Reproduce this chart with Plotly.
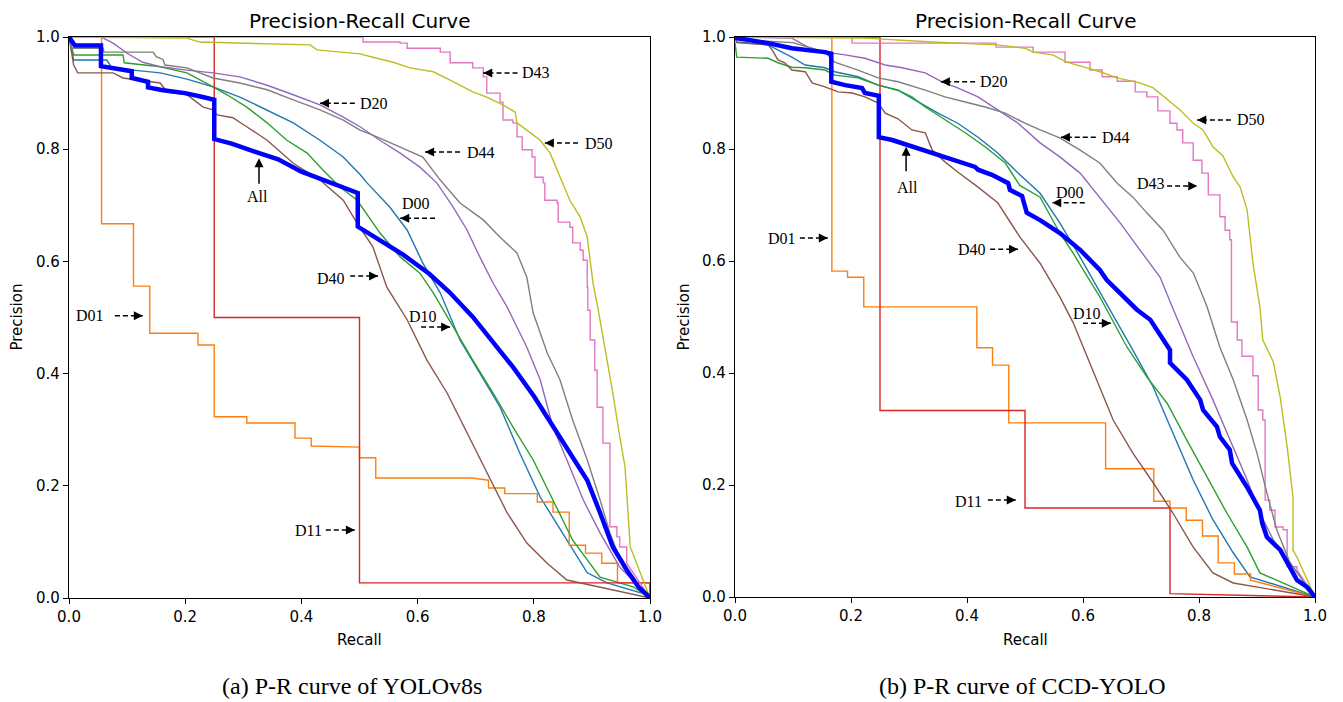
import plotly.graph_objects as go

# ---------------- data: panel (a) YOLOv8s ----------------
a_all_r = [0.0, 0.01, 0.055, 0.055, 0.108, 0.108, 0.136, 0.136, 0.162, 0.20, 0.23, 0.25, 0.25, 0.28, 0.33, 0.36, 0.40, 0.45, 0.497, 0.497, 0.535, 0.575, 0.62, 0.655, 0.695, 0.73, 0.764, 0.80, 0.833, 0.865, 0.892, 0.914, 0.936, 0.96, 0.98, 1.0]
a_all_p = [1.0, 0.985, 0.985, 0.948, 0.939, 0.927, 0.920, 0.910, 0.905, 0.900, 0.893, 0.888, 0.818, 0.810, 0.792, 0.782, 0.760, 0.740, 0.722, 0.662, 0.638, 0.612, 0.578, 0.545, 0.501, 0.456, 0.412, 0.36, 0.305, 0.255, 0.21, 0.152, 0.091, 0.05, 0.02, 0.0]

a_d00_r = [0.0, 0.008, 0.065, 0.074, 0.110, 0.157, 0.203, 0.248, 0.294, 0.341, 0.386, 0.432, 0.472, 0.501, 0.513, 0.552, 0.582, 0.609, 0.639, 0.673, 0.707, 0.742, 0.776, 0.811, 0.857, 0.892, 0.926, 0.997, 1.0]
a_d00_p = [1.0, 0.959, 0.959, 0.945, 0.941, 0.936, 0.925, 0.911, 0.893, 0.870, 0.847, 0.816, 0.786, 0.755, 0.740, 0.697, 0.656, 0.597, 0.544, 0.46, 0.401, 0.340, 0.258, 0.18, 0.103, 0.045, 0.027, 0.005, 0.0]

a_d01_r = [0.0, 0.056, 0.056, 0.111, 0.111, 0.139, 0.139, 0.222, 0.222, 0.25, 0.25, 0.306, 0.306, 0.389, 0.389, 0.417, 0.417, 0.5, 0.5, 0.528, 0.528, 0.694, 0.722, 0.722, 0.75, 0.75, 0.806, 0.806, 0.833, 0.833, 0.861, 0.861, 0.889, 0.889, 0.917, 0.917, 0.944, 0.944, 1.0, 1.0]
a_d01_p = [1.0, 1.0, 0.667, 0.667, 0.556, 0.556, 0.472, 0.472, 0.451, 0.451, 0.323, 0.323, 0.312, 0.312, 0.285, 0.285, 0.271, 0.269, 0.25, 0.25, 0.214, 0.214, 0.21, 0.196, 0.196, 0.186, 0.186, 0.171, 0.171, 0.153, 0.153, 0.094, 0.094, 0.08, 0.08, 0.062, 0.062, 0.027, 0.027, 0.0]

a_d10_r = [0.0, 0.008, 0.093, 0.095, 0.157, 0.203, 0.248, 0.272, 0.306, 0.341, 0.375, 0.410, 0.437, 0.466, 0.496, 0.535, 0.570, 0.604, 0.627, 0.661, 0.695, 0.730, 0.764, 0.799, 0.833, 0.867, 0.914, 0.971, 1.0]
a_d10_p = [1.0, 0.968, 0.968, 0.954, 0.947, 0.936, 0.911, 0.897, 0.875, 0.847, 0.816, 0.793, 0.763, 0.733, 0.709, 0.651, 0.608, 0.579, 0.544, 0.483, 0.424, 0.365, 0.305, 0.246, 0.175, 0.103, 0.037, 0.02, 0.0]

a_d11_r = [0.0, 0.25, 0.25, 0.5, 0.5, 1.0, 1.0]
a_d11_p = [1.0, 1.0, 0.5, 0.5, 0.027, 0.027, 0.0]

a_d20_r = [0.0, 0.055, 0.076, 0.10, 0.127, 0.157, 0.203, 0.248, 0.294, 0.341, 0.386, 0.432, 0.472, 0.501, 0.535, 0.570, 0.604, 0.633, 0.661, 0.685, 0.707, 0.730, 0.754, 0.788, 0.811, 0.833, 0.857, 0.885, 0.914, 0.948, 1.0]
a_d20_p = [1.0, 1.0, 0.989, 0.971, 0.955, 0.947, 0.941, 0.936, 0.929, 0.914, 0.897, 0.879, 0.857, 0.840, 0.816, 0.793, 0.768, 0.740, 0.697, 0.656, 0.608, 0.561, 0.519, 0.447, 0.389, 0.305, 0.246, 0.175, 0.116, 0.055, 0.0]

a_d40_r = [0.0, 0.008, 0.015, 0.076, 0.093, 0.157, 0.169, 0.203, 0.231, 0.248, 0.255, 0.282, 0.306, 0.341, 0.386, 0.432, 0.472, 0.496, 0.523, 0.547, 0.582, 0.616, 0.651, 0.685, 0.719, 0.754, 0.788, 0.823, 0.857, 1.0]
a_d40_p = [1.0, 0.95, 0.936, 0.936, 0.927, 0.918, 0.902, 0.897, 0.875, 0.870, 0.861, 0.856, 0.840, 0.816, 0.775, 0.745, 0.709, 0.668, 0.626, 0.554, 0.496, 0.424, 0.365, 0.294, 0.223, 0.152, 0.098, 0.062, 0.032, 0.0]

# D43 is a staircase: precision drops to p[i] at recall r[i]; the last point is joined by a straight line
a_d43_r = [0.0, 0.506, 0.570, 0.582, 0.639, 0.656, 0.695, 0.713, 0.719, 0.742, 0.747, 0.764, 0.771, 0.780, 0.797, 0.802, 0.816, 0.819, 0.840, 0.842, 0.862, 0.867, 0.880, 0.885, 0.892, 0.893, 0.897, 0.905, 0.909, 0.919, 0.931, 0.943, 0.948, 0.960, 1.0]
a_d43_p = [1.0, 0.991, 0.989, 0.980, 0.973, 0.954, 0.945, 0.929, 0.900, 0.884, 0.852, 0.847, 0.822, 0.799, 0.786, 0.750, 0.740, 0.709, 0.704, 0.670, 0.661, 0.633, 0.620, 0.602, 0.554, 0.513, 0.460, 0.406, 0.340, 0.276, 0.127, 0.109, 0.091, 0.062, 0.0]

a_d44_r = [0.0, 0.005, 0.059, 0.06, 0.145, 0.15, 0.162, 0.165, 0.203, 0.248, 0.294, 0.341, 0.386, 0.432, 0.472, 0.501, 0.523, 0.570, 0.609, 0.639, 0.673, 0.713, 0.742, 0.771, 0.788, 0.797, 0.799, 0.823, 0.845, 0.867, 0.892, 0.914, 0.931, 0.954, 1.0]
a_d44_p = [1.0, 0.98, 0.98, 0.973, 0.973, 0.965, 0.96, 0.95, 0.945, 0.927, 0.918, 0.906, 0.888, 0.870, 0.852, 0.834, 0.825, 0.804, 0.786, 0.745, 0.704, 0.674, 0.643, 0.615, 0.572, 0.519, 0.508, 0.437, 0.389, 0.317, 0.246, 0.175, 0.116, 0.055, 0.0]

a_d50_r = [0.0, 0.203, 0.225, 0.415, 0.427, 0.501, 0.523, 0.558, 0.587, 0.627, 0.656, 0.678, 0.695, 0.719, 0.747, 0.768, 0.771, 0.788, 0.811, 0.828, 0.845, 0.862, 0.880, 0.892, 0.897, 0.902, 0.910, 0.914, 0.926, 0.936, 0.948, 0.957, 0.966, 1.0]
a_d50_p = [1.0, 0.998, 0.991, 0.986, 0.977, 0.970, 0.964, 0.955, 0.945, 0.938, 0.923, 0.911, 0.902, 0.893, 0.879, 0.866, 0.847, 0.834, 0.816, 0.793, 0.750, 0.709, 0.679, 0.643, 0.602, 0.561, 0.519, 0.496, 0.424, 0.365, 0.287, 0.234, 0.091, 0.0]

# ---------------- data: panel (b) CCD-YOLO ----------------
b_all_r = [0.0, 0.003, 0.057, 0.098, 0.155, 0.166, 0.166, 0.19, 0.219, 0.224, 0.248, 0.248, 0.271, 0.298, 0.328, 0.357, 0.384, 0.414, 0.419, 0.443, 0.471, 0.474, 0.495, 0.503, 0.526, 0.560, 0.595, 0.629, 0.641, 0.664, 0.693, 0.716, 0.728, 0.750, 0.750, 0.779, 0.802, 0.807, 0.831, 0.836, 0.853, 0.857, 0.883, 0.905, 0.909, 0.917, 0.940, 0.962, 0.969, 0.986, 1.0]
b_all_p = [1.0, 0.998, 0.989, 0.980, 0.973, 0.970, 0.920, 0.914, 0.909, 0.900, 0.895, 0.821, 0.816, 0.807, 0.798, 0.789, 0.780, 0.768, 0.763, 0.754, 0.739, 0.727, 0.716, 0.686, 0.673, 0.650, 0.620, 0.584, 0.566, 0.543, 0.513, 0.495, 0.477, 0.441, 0.418, 0.388, 0.352, 0.334, 0.304, 0.286, 0.263, 0.239, 0.196, 0.155, 0.132, 0.107, 0.084, 0.043, 0.030, 0.018, 0.0]

b_d00_r = [0.0, 0.003, 0.057, 0.074, 0.098, 0.121, 0.155, 0.172, 0.212, 0.247, 0.281, 0.316, 0.350, 0.384, 0.419, 0.453, 0.488, 0.526, 0.560, 0.595, 0.617, 0.647, 0.686, 0.721, 0.755, 0.790, 0.824, 0.859, 0.888, 1.0]
b_d00_p = [1.0, 0.991, 0.986, 0.977, 0.964, 0.950, 0.945, 0.938, 0.929, 0.914, 0.905, 0.884, 0.864, 0.846, 0.821, 0.793, 0.757, 0.721, 0.668, 0.607, 0.566, 0.512, 0.441, 0.375, 0.293, 0.209, 0.138, 0.079, 0.036, 0.0]

b_d01_r = [0.0, 0.167, 0.167, 0.194, 0.194, 0.222, 0.222, 0.417, 0.417, 0.444, 0.444, 0.472, 0.472, 0.639, 0.639, 0.722, 0.722, 0.75, 0.75, 0.778, 0.778, 0.806, 0.806, 0.833, 0.833, 0.861, 0.861, 0.889, 0.889, 1.0]
b_d01_p = [1.0, 1.0, 0.582, 0.582, 0.571, 0.571, 0.518, 0.518, 0.445, 0.445, 0.414, 0.414, 0.311, 0.311, 0.229, 0.229, 0.171, 0.171, 0.159, 0.159, 0.137, 0.137, 0.109, 0.109, 0.061, 0.061, 0.041, 0.041, 0.030, 0.0]

b_d10_r = [0.0, 0.003, 0.057, 0.074, 0.098, 0.121, 0.155, 0.172, 0.212, 0.247, 0.281, 0.305, 0.328, 0.362, 0.397, 0.431, 0.466, 0.491, 0.526, 0.560, 0.583, 0.607, 0.629, 0.641, 0.676, 0.710, 0.745, 0.779, 0.814, 0.848, 0.883, 0.905, 1.0]
b_d10_p = [0.99, 0.964, 0.962, 0.954, 0.946, 0.945, 0.941, 0.932, 0.927, 0.914, 0.905, 0.893, 0.875, 0.852, 0.829, 0.804, 0.775, 0.735, 0.714, 0.650, 0.614, 0.573, 0.536, 0.513, 0.446, 0.393, 0.346, 0.280, 0.214, 0.150, 0.089, 0.043, 0.0]

b_d11_r = [0.0, 0.25, 0.25, 0.5, 0.5, 0.75, 0.75, 1.0]
b_d11_p = [1.0, 1.0, 0.333, 0.333, 0.159, 0.159, 0.006, 0.0]

b_d20_r = [0.0, 0.098, 0.126, 0.155, 0.19, 0.224, 0.259, 0.288, 0.328, 0.357, 0.384, 0.419, 0.453, 0.488, 0.526, 0.560, 0.595, 0.629, 0.664, 0.698, 0.733, 0.755, 0.790, 0.824, 0.859, 0.883, 0.905, 0.928, 0.962, 1.0]
b_d20_p = [1.0, 0.998, 0.982, 0.973, 0.968, 0.962, 0.950, 0.945, 0.936, 0.920, 0.909, 0.893, 0.870, 0.846, 0.811, 0.786, 0.757, 0.714, 0.668, 0.620, 0.571, 0.515, 0.429, 0.352, 0.268, 0.209, 0.150, 0.102, 0.054, 0.0]

b_d40_r = [0.0, 0.003, 0.057, 0.064, 0.074, 0.086, 0.098, 0.121, 0.133, 0.155, 0.178, 0.202, 0.224, 0.247, 0.259, 0.281, 0.305, 0.328, 0.340, 0.362, 0.384, 0.419, 0.453, 0.491, 0.526, 0.560, 0.583, 0.607, 0.629, 0.652, 0.686, 0.721, 0.755, 0.790, 0.824, 0.859, 1.0]
b_d40_p = [1.0, 0.99, 0.986, 0.977, 0.959, 0.954, 0.941, 0.938, 0.918, 0.911, 0.902, 0.9, 0.893, 0.882, 0.864, 0.854, 0.834, 0.829, 0.798, 0.777, 0.759, 0.732, 0.704, 0.643, 0.596, 0.536, 0.49, 0.43, 0.375, 0.316, 0.257, 0.204, 0.150, 0.089, 0.043, 0.025, 0.0]

b_d43_r = [0.0, 0.202, 0.45, 0.514, 0.569, 0.612, 0.633, 0.659, 0.690, 0.710, 0.729, 0.750, 0.762, 0.772, 0.790, 0.805, 0.816, 0.836, 0.845, 0.853, 0.856, 0.866, 0.874, 0.893, 0.902, 0.910, 0.914, 0.922, 0.931, 0.945, 0.952, 0.969, 1.0]
b_d43_p = [1.0, 0.989, 0.982, 0.973, 0.955, 0.941, 0.929, 0.921, 0.902, 0.893, 0.868, 0.846, 0.834, 0.811, 0.780, 0.757, 0.718, 0.679, 0.655, 0.638, 0.491, 0.459, 0.430, 0.395, 0.334, 0.316, 0.173, 0.155, 0.125, 0.120, 0.054, 0.048, 0.0]

b_d44_r = [0.0, 0.003, 0.10, 0.155, 0.172, 0.212, 0.247, 0.281, 0.328, 0.362, 0.397, 0.431, 0.466, 0.5, 0.526, 0.560, 0.595, 0.629, 0.659, 0.686, 0.710, 0.738, 0.767, 0.790, 0.807, 0.814, 0.836, 0.859, 0.883, 0.9, 0.917, 0.934, 0.957, 1.0]
b_d44_p = [1.0, 0.995, 0.99, 0.973, 0.955, 0.941, 0.927, 0.920, 0.905, 0.893, 0.884, 0.875, 0.864, 0.846, 0.834, 0.820, 0.798, 0.775, 0.739, 0.714, 0.686, 0.655, 0.607, 0.579, 0.536, 0.518, 0.446, 0.388, 0.316, 0.257, 0.186, 0.120, 0.061, 0.0]

b_d50_r = [0.0, 0.224, 0.34, 0.453, 0.5, 0.514, 0.548, 0.572, 0.607, 0.629, 0.659, 0.698, 0.721, 0.745, 0.767, 0.790, 0.807, 0.824, 0.841, 0.859, 0.871, 0.883, 0.888, 0.893, 0.905, 0.910, 0.928, 0.940, 0.952, 0.957, 0.962, 0.962, 0.969, 1.0]
b_d50_p = [1.0, 0.998, 0.991, 0.986, 0.980, 0.973, 0.968, 0.955, 0.945, 0.938, 0.927, 0.918, 0.909, 0.888, 0.870, 0.846, 0.834, 0.804, 0.788, 0.75, 0.732, 0.691, 0.643, 0.596, 0.518, 0.459, 0.420, 0.357, 0.268, 0.227, 0.179, 0.084, 0.071, 0.0]

series_names = ["D00", "D01", "D10", "D11", "D20", "D40", "D43", "D44", "D50", "All"]
series_colors = ["#1f77b4", "#ff7f0e", "#2ca02c", "#d62728", "#9467bd",
                 "#8c564b", "#e377c2", "#7f7f7f", "#bcbd22", "#0000ff"]

panel_a = [(a_d00_r, a_d00_p), (a_d01_r, a_d01_p), (a_d10_r, a_d10_p), (a_d11_r, a_d11_p),
           (a_d20_r, a_d20_p), (a_d40_r, a_d40_p), (a_d43_r, a_d43_p), (a_d44_r, a_d44_p),
           (a_d50_r, a_d50_p), (a_all_r, a_all_p)]
panel_b = [(b_d00_r, b_d00_p), (b_d01_r, b_d01_p), (b_d10_r, b_d10_p), (b_d11_r, b_d11_p),
           (b_d20_r, b_d20_p), (b_d40_r, b_d40_p), (b_d43_r, b_d43_p), (b_d44_r, b_d44_p),
           (b_d50_r, b_d50_p), (b_all_r, b_all_p)]


def staircase(r, p):
    """Turn drop points into horizontal/vertical corners; last point joined straight."""
    xs, ys = [r[0]], [p[0]]
    for i in range(1, len(r) - 1):
        xs += [r[i], r[i]]
        ys += [p[i - 1], p[i]]
    xs.append(r[-1])
    ys.append(p[-1])
    return xs, ys


fig = go.Figure()
for panel, xa, ya in [(panel_a, "x", "y"), (panel_b, "x2", "y2")]:
    for (r, p), name, col in zip(panel, series_names, series_colors):
        if name == "D43":
            r, p = staircase(r, p)
        fig.add_trace(go.Scatter(
            x=r, y=p, mode="lines", name=name, xaxis=xa, yaxis=ya,
            line=dict(color=col, width=4.5 if name == "All" else 1.4),
            showlegend=False, hoverinfo="skip"))

# page body has an 8px margin: figure is sized/placed to compensate
OFF = 8
W, H = 1343 - OFF, 702 - OFF


def X(px):
    return (px - OFF) / W


def Y(py):
    return 1 - (py - OFF) / H


SANS = "DejaVu Sans"
SERIF = "Liberation Serif"
ax_common = dict(range=[0, 1], tickmode="array", tickvals=[0, 0.2, 0.4, 0.6, 0.8, 1.0],
                 ticktext=["0.0", "0.2", "0.4", "0.6", "0.8", "1.0"],
                 ticks="outside", ticklen=5, tickwidth=1, tickcolor="black",
                 showline=True, mirror=True, linecolor="black", linewidth=1.2,
                 showgrid=False, zeroline=False, automargin=False,
                 tickfont=dict(family=SANS, size=15, color="black"))

fig.update_layout(
    width=W, height=H, margin=dict(l=0, r=0, t=0, b=0, autoexpand=False),
    paper_bgcolor="white", plot_bgcolor="white",
    xaxis=dict(domain=[X(69), X(650)], anchor="y", **ax_common),
    yaxis=dict(domain=[Y(598), Y(37)], anchor="x", **ax_common),
    xaxis2=dict(domain=[X(735), X(1315)], anchor="y2", **ax_common),
    yaxis2=dict(domain=[Y(597), Y(37)], anchor="x2", **ax_common),
)

annotations = []
shapes = []


def ptext(px, py, text, size, family=SANS, angle=0):
    annotations.append(dict(xref="paper", yref="paper", x=X(px), y=Y(py), text=text,
                            showarrow=False, xanchor="center", yanchor="middle",
                            textangle=angle,
                            font=dict(family=family, size=size, color="black")))


for cx, px_prec in [(359.5, 16), (1025, 683)]:
    ptext(cx, 21, "Precision-Recall Curve", 20)
    ptext(cx, 640, "Recall", 15)
    ptext(px_prec, 317.5, "Precision", 15, angle=-90)
ptext(352, 686, "(a) P-R curve of YOLOv8s", 24, SERIF)
ptext(1022, 686, "(b) P-R curve of CCD-YOLO", 24, SERIF)


def label(xr, yr, x, y, text, anchor="center"):
    annotations.append(dict(xref=xr, yref=yr, x=x, y=y, text=text, showarrow=False,
                            xanchor=anchor, yanchor="middle",
                            font=dict(family=SERIF, size=16, color="black")))


def darrow(xr, yr, x_tail, x_head, y):
    shapes.append(dict(type="line", xref=xr, yref=yr, x0=x_tail, x1=x_head, y0=y, y1=y,
                       line=dict(color="black", width=1.5, dash="5px,3px")))
    annotations.append(dict(xref=xr, yref=yr, x=x_head, y=y, text="", showarrow=True,
                            ax=8 if x_tail > x_head else -8, ay=0,
                            arrowhead=2, arrowsize=1.2, arrowwidth=1.5, arrowcolor="black",
                            standoff=0))


def uparrow(xr, yr, x, y_head, dy_px):
    annotations.append(dict(xref=xr, yref=yr, x=x, y=y_head, text="", showarrow=True,
                            ax=0, ay=dy_px, arrowhead=2, arrowsize=1.2, arrowwidth=1.5,
                            arrowcolor="black", standoff=0))


# panel (a) labels
label("x", "y", 0.776, 0.936, "D43", "left"); darrow("x", "y", 0.772, 0.713, 0.936)
label("x", "y", 0.497, 0.882, "D20", "left"); darrow("x", "y", 0.492, 0.432, 0.882)
label("x", "y", 0.885, 0.811, "D50", "left"); darrow("x", "y", 0.876, 0.819, 0.811)
label("x", "y", 0.682, 0.795, "D44", "left"); darrow("x", "y", 0.673, 0.613, 0.795)
label("x", "y", 0.597, 0.704, "D00"); darrow("x", "y", 0.630, 0.570, 0.677)
label("x", "y", 0.325, 0.715, "All"); uparrow("x", "y", 0.327, 0.784, 27)
label("x", "y", 0.451, 0.570, "D40"); darrow("x", "y", 0.484, 0.532, 0.574)
label("x", "y", 0.609, 0.501, "D10"); darrow("x", "y", 0.606, 0.656, 0.483)
label("x", "y", 0.036, 0.503, "D01"); darrow("x", "y", 0.079, 0.127, 0.503)
label("x", "y", 0.413, 0.121, "D11"); darrow("x", "y", 0.442, 0.492, 0.121)

# panel (b) labels
label("x2", "y2", 0.419, 0.920, "D20", "left"); darrow("x2", "y2", 0.414, 0.355, 0.920)
label("x2", "y2", 0.629, 0.821, "D44", "left"); darrow("x2", "y2", 0.622, 0.562, 0.821)
label("x2", "y2", 0.862, 0.852, "D50", "left"); darrow("x2", "y2", 0.855, 0.797, 0.852)
label("x2", "y2", 0.717, 0.738, "D43"); darrow("x2", "y2", 0.745, 0.797, 0.734)
label("x2", "y2", 0.298, 0.732, "All"); uparrow("x2", "y2", 0.295, 0.804, 26)
label("x2", "y2", 0.578, 0.723, "D00"); darrow("x2", "y2", 0.603, 0.547, 0.704)
label("x2", "y2", 0.081, 0.641, "D01"); darrow("x2", "y2", 0.112, 0.160, 0.641)
label("x2", "y2", 0.409, 0.621, "D40"); darrow("x2", "y2", 0.440, 0.488, 0.621)
label("x2", "y2", 0.607, 0.507, "D10"); darrow("x2", "y2", 0.600, 0.648, 0.489)
label("x2", "y2", 0.403, 0.170, "D11"); darrow("x2", "y2", 0.436, 0.484, 0.173)

fig.update_layout(annotations=annotations, shapes=shapes)
fig.write_html("out.html")
